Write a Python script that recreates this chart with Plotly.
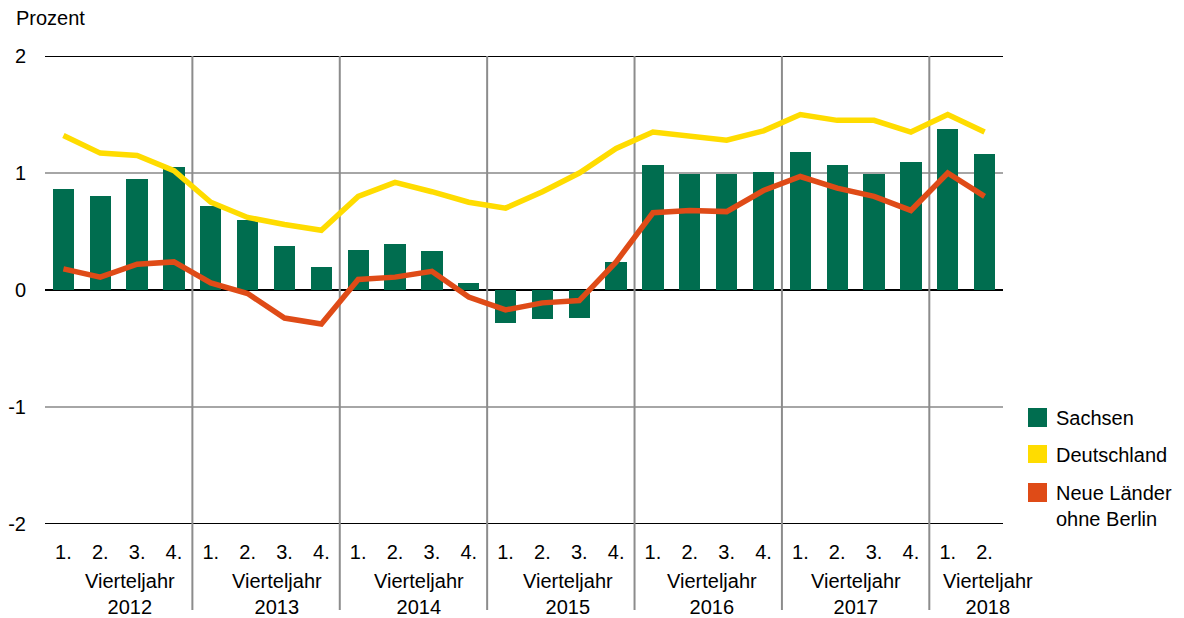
import plotly.graph_objects as go

quarters = ["1.", "2.", "3.", "4."] * 6 + ["1.", "2."]
years = ["2012", "2013", "2014", "2015", "2016", "2017", "2018"]
year_label_pos = [1.8, 5.8, 9.65, 13.7, 17.6, 21.5, 25.1]
sachsen = [0.86, 0.80, 0.95, 1.05,
           0.72, 0.60, 0.38, 0.20,
           0.34, 0.39, 0.33, 0.06,
           -0.28, -0.25, -0.24, 0.24,
           1.07, 0.99, 0.99, 1.01,
           1.18, 1.07, 0.99, 1.09,
           1.38, 1.16]
deutschland = [1.32, 1.17, 1.15, 1.02,
               0.75, 0.62, 0.56, 0.51,
               0.80, 0.92, 0.84, 0.75,
               0.70, 0.84, 1.00, 1.21,
               1.35, 1.32, 1.28, 1.36,
               1.50, 1.45, 1.45, 1.35,
               1.50, 1.35]
neue_laender = [0.18, 0.11, 0.22, 0.24,
                0.06, -0.03, -0.24, -0.29,
                0.09, 0.11, 0.16, -0.06,
                -0.17, -0.11, -0.09, 0.24,
                0.66, 0.68, 0.67, 0.85,
                0.97, 0.87, 0.80, 0.68,
                1.00, 0.80]
y_ticks = [2, 1, 0, -1, -2]

GREEN = "#006D4F"
YELLOW = "#FFDC00"
ORANGE = "#DF4B17"
FONT = "Liberation Sans, Arial, sans-serif"

x = list(range(len(quarters)))

fig = go.Figure()
fig.add_trace(go.Bar(x=x, y=sachsen, name="Sachsen", marker=dict(color=GREEN, line=dict(width=0)),
                     width=0.58, showlegend=False))
fig.add_trace(go.Scatter(x=x, y=deutschland, name="Deutschland", mode="lines",
                         line=dict(color=YELLOW, width=5.5), showlegend=False))
fig.add_trace(go.Scatter(x=x, y=neue_laender, name="Neue Länder ohne Berlin", mode="lines",
                         line=dict(color=ORANGE, width=5.5), showlegend=False))

shapes = []
for v in y_ticks:
    col = "#000000" if v in (2, 0, -2) else "#A6A6A6"
    shapes.append(dict(type="line", xref="paper", yref="y", x0=0, x1=1, y0=v, y1=v,
                       line=dict(color=col, width=2), layer="below"))
for k in range(1, len(years)):
    xs = 4 * k - 0.5
    shapes.append(dict(type="line", xref="x", yref="paper", x0=xs, x1=xs, y0=1, y1=-0.184,
                       line=dict(color="#8C8C8C", width=2), layer="below"))

annotations = []
for yr, pos in zip(years, year_label_pos):
    annotations.append(dict(x=pos, y=-0.1496, xref="x", yref="paper", text="Vierteljahr<br>" + yr,
                            showarrow=False, xanchor="center", yanchor="middle",
                            font=dict(size=20, color="#000", family=FONT)))
annotations.append(dict(x=-31 / 958, y=(524 - 18) / 468, xref="paper", yref="paper", text="Prozent",
                        showarrow=False, xanchor="left", yanchor="middle",
                        font=dict(size=20, color="#000", family=FONT)))

legend_items = [("Sachsen", GREEN, 408, 427, 418),
                ("Deutschland", YELLOW, 445, 463, 455),
                ("Neue Länder<br>ohne Berlin", ORANGE, 483, 502, 506)]
for label, col, top, bot, tc in legend_items:
    shapes.append(dict(type="rect", xref="paper", yref="paper",
                       x0=(1028 - 45) / 958, x1=(1047 - 45) / 958,
                       y0=(524 - bot) / 468, y1=(524 - top) / 468,
                       fillcolor=col, line=dict(width=0)))
    annotations.append(dict(x=(1054 - 45) / 958, y=(524 - tc) / 468, xref="paper", yref="paper",
                            text=label, showarrow=False, xanchor="left", yanchor="middle",
                            align="left", font=dict(size=20, color="#000", family=FONT)))

# the page body has an 8px margin, so the figure is 8px smaller and margins shifted
fig.update_layout(
    width=1176, height=610,
    margin=dict(l=37, r=181, t=48, b=94, autoexpand=False),
    plot_bgcolor="white", paper_bgcolor="white",
    font=dict(family=FONT, size=20, color="#000"),
    bargap=0,
    shapes=shapes,
    annotations=annotations,
    xaxis=dict(range=[-0.5, len(quarters) - 0.5], tickmode="array", tickvals=x, ticktext=quarters,
               showgrid=False, zeroline=False, showline=False, ticks="outside", ticklen=10,
               tickcolor="rgba(0,0,0,0)", automargin=False,
               tickfont=dict(size=20, family=FONT, color="#000")),
    yaxis=dict(range=[-2, 2], tickmode="array", tickvals=y_ticks, ticktext=[str(v) for v in y_ticks],
               showgrid=False, zeroline=False, showline=False, ticks="outside", ticklen=14,
               tickcolor="rgba(0,0,0,0)", automargin=False,
               tickfont=dict(size=20, family=FONT, color="#000")),
)

fig.write_html("out.html")
